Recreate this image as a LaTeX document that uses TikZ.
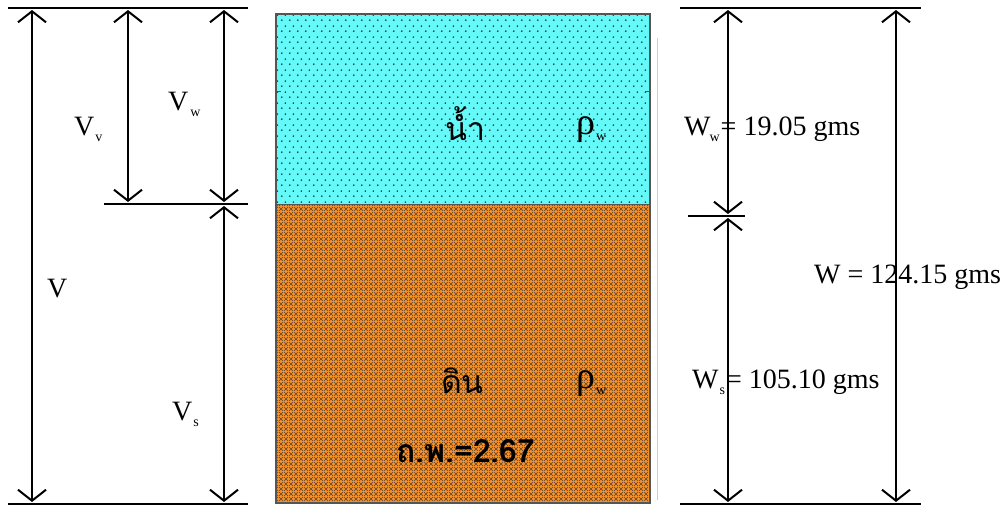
\documentclass[tikz,border=0pt]{standalone}
\usepackage{fontspec}
\setmainfont{Liberation Serif}
\newfontfamily\thaifont[Script=Thai]{Loma}
\usetikzlibrary{arrows.meta,patterns.meta}
\tikzdeclarepattern{
  name=waterdots, type=uncolored,
  bottom left={(0pt,0pt)}, top right={(8pt,11pt)},
  tile size={(8pt,11pt)},
  code={\fill (2pt,2pt) circle (1pt); \fill (6pt,7.5pt) circle (1pt);}
}
\tikzdeclarepattern{
  name=soilmesh, type=uncolored,
  bottom left={(0pt,0pt)}, top right={(4.5pt,4.5pt)},
  tile size={(4.5pt,4.5pt)},
  code={\draw[line width=0.6pt] (0pt,0pt)--(4.5pt,4.5pt) (0pt,4.5pt)--(4.5pt,0pt);}
}
\definecolor{water}{RGB}{100,250,250}
\definecolor{soil}{RGB}{245,145,40}
\definecolor{mesh}{RGB}{95,65,45}
\definecolor{boxline}{RGB}{85,85,85}
\newcommand\sbs[1]{\raisebox{-6pt}{\fontsize{14}{14}\selectfont #1}}
\begin{document}
\begin{tikzpicture}[x=1pt,y=-1pt,
  dimline/.style={line width=2pt,
    {Straight Barb[length=11pt,width=28pt,line width=2pt]}-{Straight Barb[length=11pt,width=28pt,line width=2pt]}},
  refline/.style={line width=2pt},
  lbl/.style={anchor=base west,inner sep=0pt,font=\fontsize{28}{30}\selectfont},
  thai/.style={anchor=base west,inner sep=0pt,font=\thaifont\fontsize{32}{34}\selectfont},
  rho/.style={anchor=base west,inner sep=0pt,font=\fontsize{38}{40}\selectfont}]
\useasboundingbox (0,0) rectangle (1005,506);
% box
\fill[water] (276,14) rectangle (650,204);
\fill[pattern=waterdots,pattern color={black!80}] (276,14) rectangle (650,204);
\fill[soil] (276,204) rectangle (650,503);
\fill[pattern=soilmesh,pattern color=mesh] (276,204) rectangle (650,503);
\draw[boxline,line width=1.6pt] (276,14) rectangle (650,503);
\draw[boxline,line width=1pt] (276,204) -- (650,204);
\draw[boxline,line width=1pt] (645,91) -- (650,91) (276,91) -- (281,91);
\draw[black!20,line width=1pt] (657,38) -- (657,500);
% coordinates left
\coordinate (LTa) at (8,8);   \coordinate (LTb) at (248,8);
\coordinate (LMa) at (104,204); \coordinate (LMb) at (248,204);
\coordinate (LBa) at (8,504); \coordinate (LBb) at (248,504);
\coordinate (Vt) at (32,10);  \coordinate (Vb) at (32,502);
\coordinate (Vvt) at (128,10); \coordinate (Vvb) at (128,202);
\coordinate (Vwt) at (224,10); \coordinate (Vwb) at (224,202);
\coordinate (Vst) at (224,206); \coordinate (Vsb) at (224,502);
\draw[refline] (LTa) -- (LTb);
\draw[refline] (LMa) -- (LMb);
\draw[refline] (LBa) -- (LBb);
\draw[dimline] (Vt) -- (Vb);
\draw[dimline] (Vvt) -- (Vvb);
\draw[dimline] (Vwt) -- (Vwb);
\draw[dimline] (Vst) -- (Vsb);
\node[lbl] (lVv) at (74,135) {V\kern1pt\sbs{v}};
\node[lbl] (lVw) at (168,110) {V\kern2pt\sbs{w}};
\node[lbl] (lV) at (47,297) {V};
\node[lbl] (lVs) at (172,420) {V\kern1pt\sbs{s}};
% coordinates right
\coordinate (RTa) at (680,8);  \coordinate (RTb) at (921,8);
\coordinate (RMa) at (688,216); \coordinate (RMb) at (745,216);
\coordinate (RBa) at (680,504); \coordinate (RBb) at (921,504);
\coordinate (Wwt) at (728,10); \coordinate (Wwb) at (728,214);
\coordinate (Wst) at (728,218); \coordinate (Wsb) at (728,502);
\coordinate (Wt) at (896,10); \coordinate (Wb) at (896,502);
\draw[refline] (RTa) -- (RTb);
\draw[refline] (RMa) -- (RMb);
\draw[refline] (RBa) -- (RBb);
\draw[dimline] (Wwt) -- (Wwb);
\draw[dimline] (Wst) -- (Wsb);
\draw[dimline] (Wt) -- (Wb);
\node[lbl] (lWw) at (684,135) {W\kern-1pt\sbs{w}\kern1pt= 19.05 gms};
\node[lbl] (lWs) at (692,388) {W\kern1pt\sbs{s}\kern1pt= 105.10 gms};
\node[lbl] (lW) at (814,283) {W = 124.15 gms};
% box texts
\node[thai] (tw) at (445,140) {น้ำ};
\node[rho] (rw) at (576,134) {ρ\kern1pt\sbs{w}};
\node[thai] (ts) at (441,393) {ดิน};
\node[rho] (rs) at (576,388) {ρ\kern1pt\sbs{w}};
\node[thai,font=\thaifont\bfseries\fontsize{32}{34}\selectfont] (sg) at (396,462) {ถ.พ.=2.67};
\end{tikzpicture}
\end{document}
